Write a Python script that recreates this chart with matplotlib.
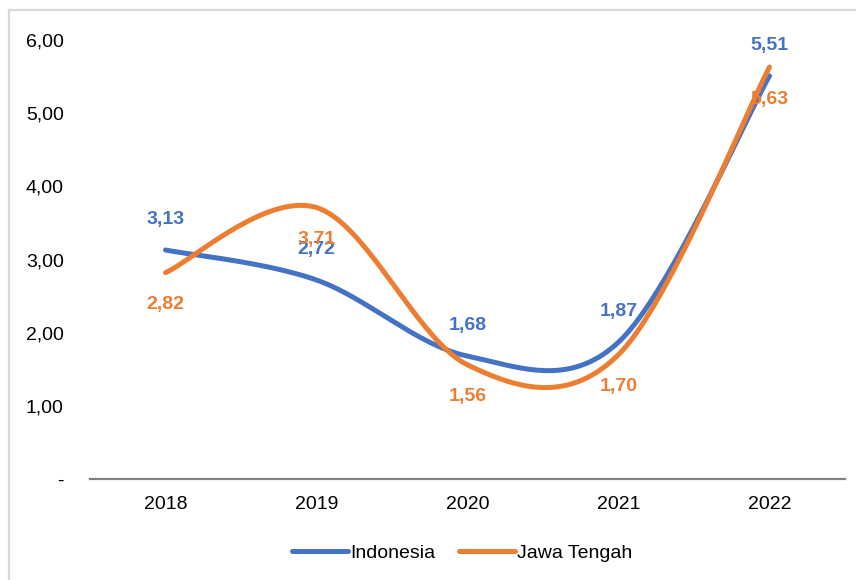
import numpy as np
import matplotlib.pyplot as plt
from matplotlib.lines import Line2D

years = ["2018", "2019", "2020", "2021", "2022"]
indonesia = [3.13, 2.72, 1.68, 1.87, 5.51]
jawaTengah = [2.82, 3.71, 1.56, 1.70, 5.63]
yTicks = [0, 1, 2, 3, 4, 5, 6]
yTickLabels = ["-", "1,00", "2,00", "3,00", "4,00", "5,00", "6,00"]

blue = "#4472C4"
orange = "#ED7D31"
fontFam = ["Liberation Sans Narrow", "Liberation Sans", "DejaVu Sans"]


def smoothLine(ys, steps=40):
  # excel-like smoothed line: bezier segments with catmull-rom control points
  pts = np.column_stack([np.arange(len(ys), dtype=float), np.array(ys, dtype=float)])
  ext = np.vstack([pts[0], pts, pts[-1]])
  t = np.linspace(0, 1, steps)[:, None]
  out = []
  for i in range(len(pts) - 1):
    p0, p1, p2, p3 = ext[i], ext[i + 1], ext[i + 2], ext[i + 3]
    c1 = p1 + (p2 - p0) / 6
    c2 = p2 - (p3 - p1) / 6
    seg = (1 - t) ** 3 * p1 + 3 * (1 - t) ** 2 * t * c1 + 3 * (1 - t) * t ** 2 * c2 + t ** 3 * p2
    out.append(seg if i == 0 else seg[1:])
  out = np.vstack(out)
  return out[:, 0], out[:, 1]


fig = plt.figure(figsize=(8.56, 5.8), dpi=100)
ax = fig.add_axes([90 / 856, 1 - 479 / 580, 755 / 856, 439 / 580])

for vals, col, name, off, va in [(indonesia, blue, "Indonesia", 22, "bottom"),
                                  (jawaTengah, orange, "Jawa Tengah", -23, "top")]:
  sx, sy = smoothLine(vals)
  ax.plot(sx, sy, color=col, lw=3.6, solid_capstyle="round", label=name)
  for i, v in enumerate(vals):
    ax.annotate(("%.2f" % v).replace(".", ","), (i, v), xytext=(0, off),
                textcoords="offset points", ha="center", va="center",
                color=col, fontsize=14, fontweight="bold", family=fontFam)

ax.set_xlim(-0.5, len(years) - 0.5)
ax.set_ylim(0, 6)
ax.set_xticks(range(len(years)))
ax.set_xticklabels(years, family=fontFam, fontsize=14)
ax.set_yticks(yTicks)
ax.set_yticklabels(yTickLabels, family=fontFam, fontsize=14)
ax.tick_params(axis="both", length=0)
ax.tick_params(axis="y", pad=19)
ax.tick_params(axis="x", pad=12)

for s in ["top", "right", "left"]:
  ax.spines[s].set_visible(False)
ax.spines["bottom"].set_color("#7F7F7F")
ax.spines["bottom"].set_linewidth(1.6)

leg = fig.legend(loc="center", bbox_to_anchor=(0.54, 1 - 553 / 580), ncol=2, frameon=False,
                 handlelength=2.9, handletextpad=0.1, columnspacing=1.2,
                 prop={"family": fontFam, "size": 14})

# light frame, cropped on right and bottom like the source
fig.add_artist(Line2D([9 / 856, 1], [1 - 10 / 580, 1 - 10 / 580], transform=fig.transFigure,
                      color="#D9D9D9", lw=1.6))
fig.add_artist(Line2D([9 / 856, 9 / 856], [0, 1 - 10 / 580], transform=fig.transFigure,
                      color="#D9D9D9", lw=1.6))

plt.savefig("out.png", dpi=100)
